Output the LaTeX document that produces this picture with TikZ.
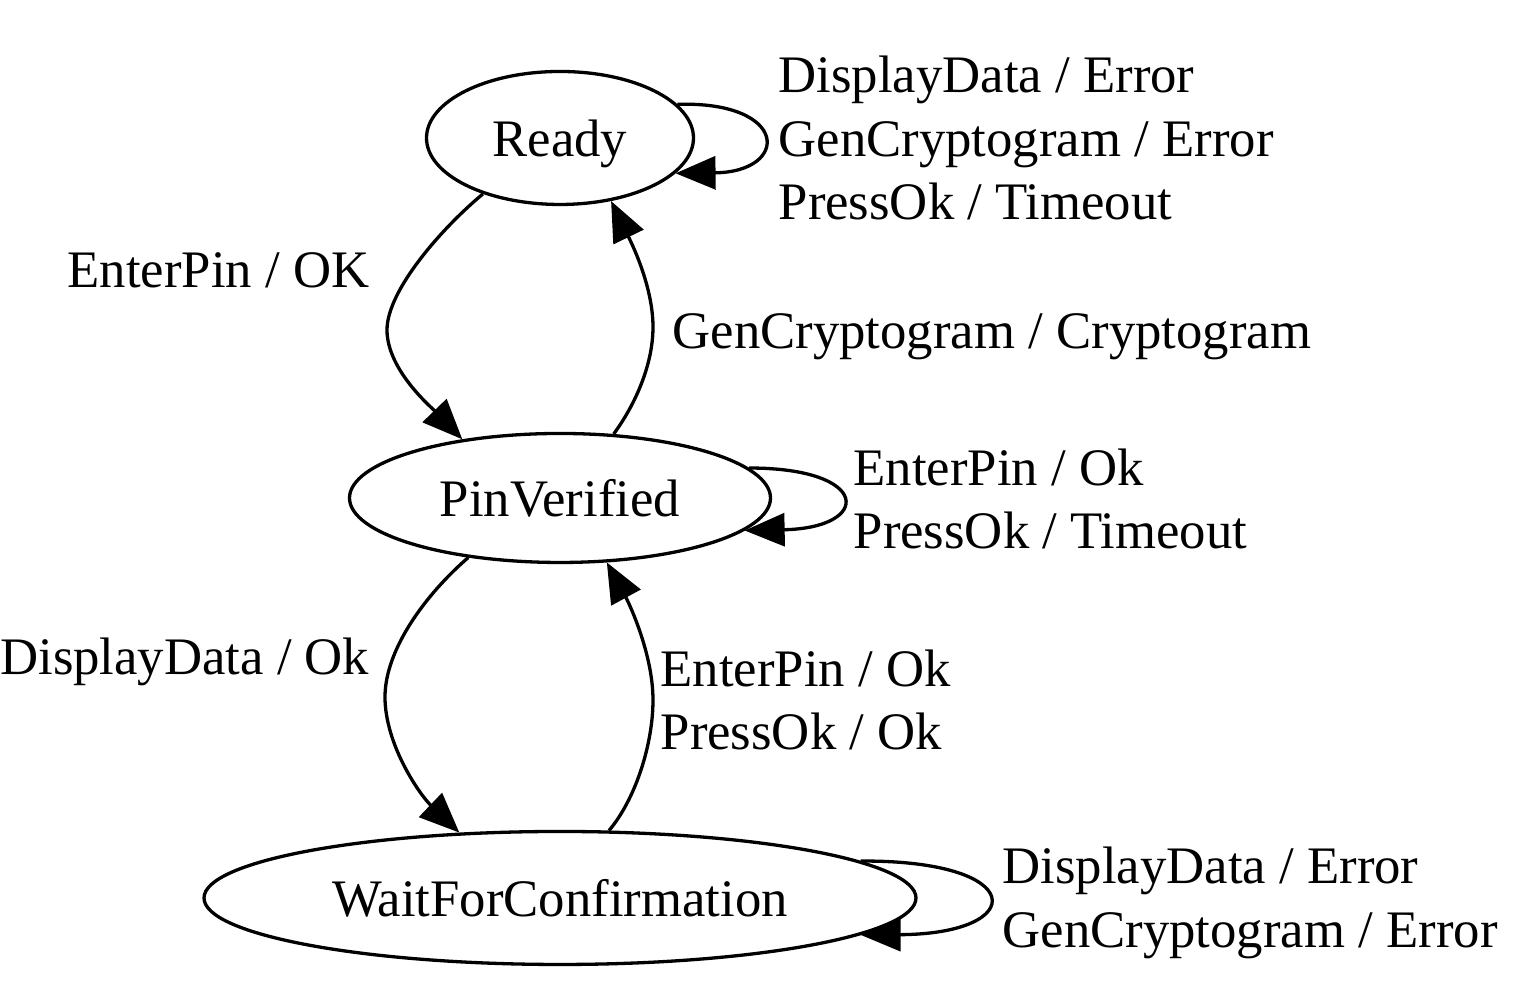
\documentclass[tikz,border=0pt]{standalone}
\usepackage{fontspec}
\setmainfont{Liberation Serif}
\usetikzlibrary{shapes.geometric,arrows.meta}

\tikzset{
  state/.style={ellipse, draw, line width=0.033cm, inner sep=0pt, text depth=0pt},
  trans/.style={line width=0.033cm, -{Triangle[length=0.40cm,width=0.33cm]}},
  lbl/.style={align=left, inner sep=0pt}
}

\begin{document}
\begin{tikzpicture}[font=\fontsize{15}{18.1}\selectfont]

\useasboundingbox (0,0) rectangle (15.14,10);

\node[state, minimum width=2.67cm, minimum height=1.33cm] (ready) at (5.60,8.62) {Ready};
\node[state, minimum width=4.21cm, minimum height=1.29cm] (pin) at (5.60,5.02) {PinVerified};
\node[state, minimum width=7.12cm, minimum height=1.33cm] (wait) at (5.60,1.02) {WaitForConfirmation};

\node[lbl, anchor=west] (readylbl) at (7.78,8.62) {DisplayData / Error\\GenCryptogram / Error\\PressOk / Timeout};
\node[lbl, anchor=east] (enterlbl) at (3.70,7.30) {EnterPin / OK};
\node[lbl, anchor=west] (genlbl) at (6.72,6.63) {GenCryptogram / Cryptogram};
\node[lbl, anchor=west] (pinlbl) at (8.53,5.01) {EnterPin / Ok\\PressOk / Timeout};
\node[lbl, anchor=east] (displaylbl) at (3.70,3.38) {DisplayData / Ok};
\node[lbl, anchor=west] (confirmlbl) at (6.60,3.00) {EnterPin / Ok\\PressOk / Ok};
\node[lbl, anchor=west] (waitlbl) at (10.02,0.97) {DisplayData / Error\\GenCryptogram / Error};

\draw[trans] (ready.16) .. controls (7.9,8.99) and (7.9,8.28) .. (ready.-17);
\draw[trans] (ready.216) .. controls (4.43,7.73) and (3.87,7.10) .. (3.87,6.70)
  .. controls (3.87,6.30) and (4.32,5.92) .. (pin.149);
\draw[trans] (pin.50) .. controls (6.35,5.95) and (6.53,6.35) .. (6.53,6.73)
  .. controls (6.53,7.15) and (6.30,7.60) .. (ready.-51);

\draw[trans] (pin.9) .. controls (8.72,5.32) and (8.72,4.72) .. (pin.-10);
\draw[trans] (pin.213) .. controls (4.25,4.05) and (3.85,3.50) .. (3.85,3.03)
  .. controls (3.85,2.55) and (4.20,2.05) .. (wait.147);
\draw[trans] (wait.54) .. controls (6.35,2.00) and (6.53,2.55) .. (6.53,3.00)
  .. controls (6.53,3.45) and (6.30,3.95) .. (pin.-54);

\draw[trans] (wait.7) .. controls (10.29,1.40) and (10.29,0.66) .. (wait.-7);

\end{tikzpicture}
\end{document}
